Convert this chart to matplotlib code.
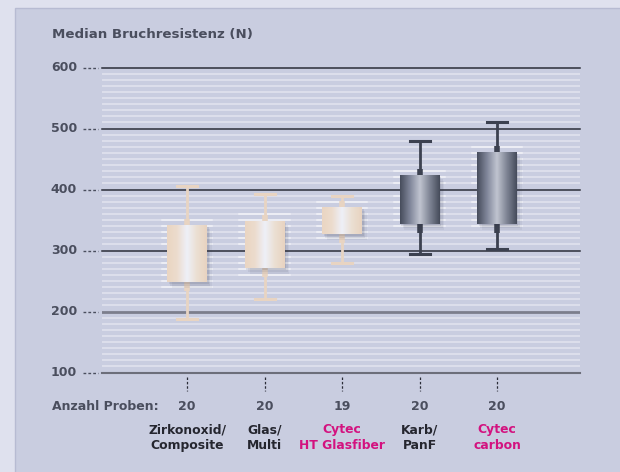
import matplotlib.pyplot as plt
import matplotlib.transforms as mtransforms
from matplotlib.colors import LinearSegmentedColormap
from matplotlib.patches import Rectangle
import numpy as np

categories = ["Zirkonoxid/\nComposite", "Glas/\nMulti", "Cytec\nHT Glasfiber", "Karb/\nPanF", "Cytec\ncarbon"]
n_samples = [20, 20, 19, 20, 20]
whisk_low = [187, 221, 279, 295, 303]
q1 = [248, 271, 327, 343, 343]
q3 = [341, 348, 371, 423, 461]
whisk_high = [405, 393, 389, 480, 510]
highlight = [False, False, True, False, True]
dark_box = [False, False, False, True, True]
yticks = [100, 200, 300, 400, 500, 600]

txt = '#4a4e5e'
magenta = '#d3127f'

fig = plt.figure(figsize=(6.2, 4.72), dpi=100)
fig.patch.set_facecolor('#dfe1ee')
fig.patches.append(Rectangle((15/620, -0.01), 1, (472-8)/472 + 0.01, transform=fig.transFigure,
                             facecolor='#c9cde0', edgecolor='#b7bbd2', lw=1, zorder=-10))

ax = fig.add_axes([102/620, 99.5/472, 478/620, 305/472])
ax.set_facecolor('none')
for s in ax.spines.values():
    s.set_visible(False)
ax.set_xticks([])
ax.set_yticks([])
ax.set_xlim(-1.1, 5.07)
ax.set_ylim(100, 600)
ax.set_autoscale_on(False)

# minor white lines every 10
for v in range(110, 600, 10):
    if v % 100:
        ax.axhline(v, color='#e2e4ef', lw=1.1, zorder=1)
# major lines
for v in yticks:
    if v == 200:
        ax.axhline(v, color='#7c7e8c', lw=2.0, zorder=2)
    elif v == 100:
        ax.axhline(v, color='#6c6e7a', lw=1.5, zorder=2, clip_on=False)
    else:
        ax.axhline(v, color='#2a2d38', lw=1.1, zorder=2, clip_on=False)

# y labels with dashes
ytr = ax.get_yaxis_transform()
for v in yticks:
    ax.text(-0.052, v, str(v), transform=ytr, ha='right', va='center',
            fontsize=9, fontweight='bold', color=txt)
    ax.plot([-0.04, -0.009], [v, v], transform=ytr, color=txt, lw=1,
            ls=(0, (2, 1.5)), clip_on=False)

beige = LinearSegmentedColormap.from_list('b', ['#ead5c2', '#ecdccd', '#eef0f8', '#ebdfd2', '#e8d3c0'])
dark = LinearSegmentedColormap.from_list('d', ['#464c5b', '#80869a', '#c0c4d0', '#7e8494', '#454b5a'])
grad = np.linspace(0, 1, 256).reshape(1, -1)

hw = 0.256
cw = 0.128
for i in range(len(categories)):
    wc = '#3c4150' if dark_box[i] else '#e8d4c2'
    # glow on minor lines near the box
    for v in range(110, 600, 10):
        if v % 100 and q1[i] - 12 <= v <= q3[i] + 12:
            ax.plot([i - hw - 0.07, i + hw + 0.07], [v, v], color='white', lw=1.1,
                    alpha=0.6, zorder=2)
    # whiskers
    ax.plot([i, i], [whisk_low[i], q1[i]], color=wc, lw=2, zorder=3, solid_capstyle='butt')
    ax.plot([i, i], [q3[i], whisk_high[i]], color=wc, lw=2, zorder=3, solid_capstyle='butt')
    ax.plot([i, i], [q1[i] - 14, q1[i]], color=wc, lw=4, zorder=3, solid_capstyle='butt')
    ax.plot([i, i], [q3[i], q3[i] + 10], color=wc, lw=4, zorder=3, solid_capstyle='butt')
    ax.plot([i - cw, i + cw], [whisk_low[i]] * 2, color=wc, lw=2.2, zorder=3)
    ax.plot([i - cw, i + cw], [whisk_high[i]] * 2, color=wc, lw=2.2, zorder=3)
    # shadow
    for k, a in [(3, 0.06), (2, 0.08), (1, 0.1)]:
        ax.add_patch(Rectangle((i - hw + 0.02 * k, q1[i] - 3 * k), 2 * hw, q3[i] - q1[i],
                               facecolor='#30344a', alpha=a, lw=0, zorder=3.5))
    ax.imshow(grad, extent=[i - hw, i + hw, q1[i], q3[i]], aspect='auto',
              cmap=dark if dark_box[i] else beige, zorder=4)

ax.set_xlim(-1.1, 5.07)
ax.set_ylim(100, 600)

# bottom dashed ticks
for i in range(len(categories)):
    ax.plot([i, i], [92.6, 69.7], color='#2a2d38', lw=0.9, ls=(0, (2, 1.5)), clip_on=False)

bt = mtransforms.blended_transform_factory(ax.transData, fig.transFigure)
for i in range(len(categories)):
    ax.text(i, 0.138, str(n_samples[i]), transform=bt, ha='center', va='center',
            fontsize=9, fontweight='bold', color=txt)
    ax.text(i, 0.0722, categories[i], transform=bt, ha='center', va='center',
            fontsize=8.9, fontweight='bold', linespacing=1.3,
            color=magenta if highlight[i] else '#25262f')

fig.text(52/620, 0.138, "Anzahl Proben:", ha='left', va='center', fontsize=9,
         fontweight='bold', color=txt)
fig.text(52/620, 0.926, "Median Bruchresistenz (N)", ha='left', va='center',
         fontsize=9.6, fontweight='bold', color=txt)

fig.savefig('out.png', dpi=100)
